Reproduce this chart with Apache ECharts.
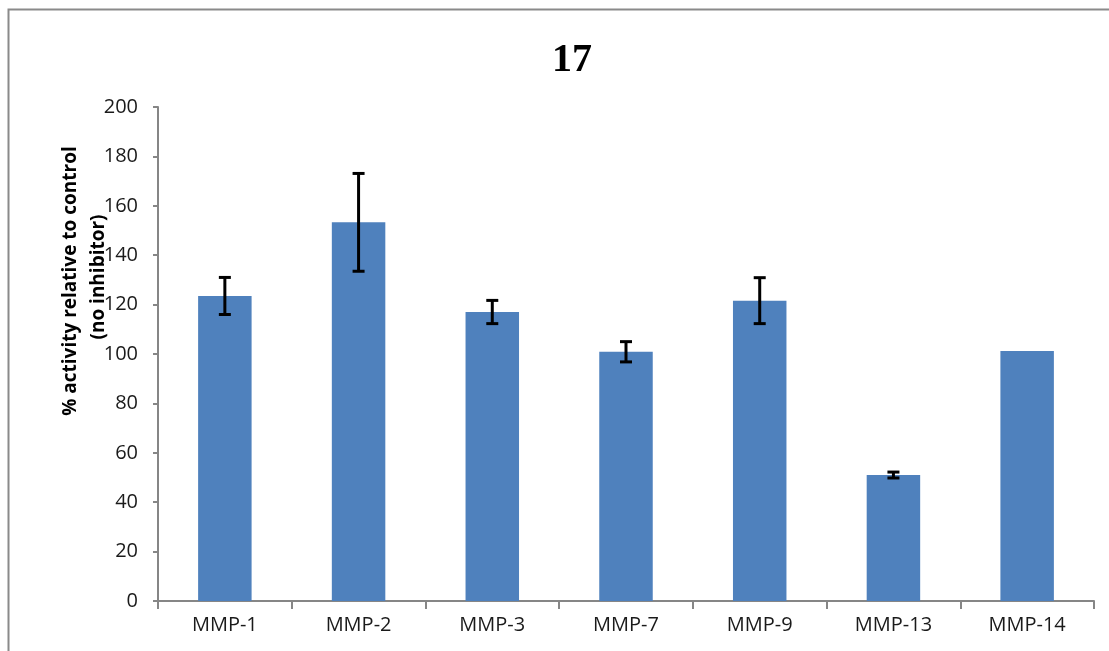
<!DOCTYPE html>
<html>
<head>
<meta charset="utf-8">
<script src="https://cdn.jsdelivr.net/npm/echarts@6/dist/echarts.min.js"></script>
<style>html,body{margin:0;padding:0;background:#fff}#c{width:1109px;height:651px}</style>
</head>
<body>
<div id="c"></div>
<script>
const categories = ['MMP-1','MMP-2','MMP-3','MMP-7','MMP-9','MMP-13','MMP-14'];
const values = [123.5, 153.3, 117.0, 100.9, 121.6, 51.0, 101.2];
const errors = [7.5, 19.8, 4.7, 4.1, 9.3, 1.2, null];
const yTicks = [0, 200, 20];
const titleText = '17';
const yNameLine1 = '% activity relative to control';
const yNameLine2 = '(no inhibitor)';

const chart = echarts.init(document.getElementById('c'));
const errData = values.map((v, i) => [i, v, errors[i]]);
const axisGray = '#868686';
chart.setOption({
  animation: false,
  backgroundColor: '#fff',
  title: {
    text: titleText, left: 567, top: 36, textAlign: 'center',
    textStyle: {fontFamily: 'Liberation Serif', fontWeight: 'bold', fontSize: 40, color: '#000'}
  },
  graphic: [
    {type: 'rect', shape: {x: 8.5, y: 9.5, width: 1200, height: 800}, style: {fill: null, stroke: '#8a8a8a', lineWidth: 2}, silent: true},
    {type: 'text', x: 71, y: 281, rotation: Math.PI/2, style: {text: yNameLine1, fontFamily: 'Open Sans', fontWeight: 'bold', fontSize: 19, fill: '#000', align: 'center', verticalAlign: 'middle'}},
    {type: 'text', x: 99, y: 277, rotation: Math.PI/2, style: {text: yNameLine2, fontFamily: 'Open Sans', fontWeight: 'bold', fontSize: 19, fill: '#000', align: 'center', verticalAlign: 'middle'}}
  ],
  grid: {left: 158, right: 15, top: 107, bottom: 50},
  xAxis: {
    type: 'category', data: categories,
    axisLine: {lineStyle: {color: axisGray, width: 2}},
    axisTick: {show: true, length: 8, lineStyle: {color: axisGray, width: 2}},
    axisLabel: {fontFamily: 'Open Sans', fontSize: 20, color: '#1a1a1a', margin: 14}
  },
  yAxis: {
    type: 'value', min: yTicks[0], max: yTicks[1], interval: yTicks[2],
    splitLine: {show: false},
    axisLine: {show: true, lineStyle: {color: axisGray, width: 2}},
    axisTick: {show: true, length: 5, lineStyle: {color: axisGray, width: 2}},
    axisLabel: {fontFamily: 'Open Sans', fontSize: 20, color: '#1a1a1a', margin: 20}
  },
  series: [
    {type: 'bar', data: values, barWidth: '40%', itemStyle: {color: '#4F81BD'}},
    {
      type: 'custom', data: errData, z: 10,
      renderItem: function (params, api) {
        const e = api.value(2);
        if (e === null || e === undefined || isNaN(e)) return;
        const i = api.value(0), v = api.value(1);
        const hi = api.coord([i, v + e]);
        const lo = api.coord([i, v - e]);
        const w = 6;
        const st = {stroke: '#000', lineWidth: 3};
        return {type: 'group', children: [
          {type: 'line', shape: {x1: hi[0], y1: hi[1], x2: lo[0], y2: lo[1]}, style: st},
          {type: 'line', shape: {x1: hi[0]-w, y1: hi[1], x2: hi[0]+w, y2: hi[1]}, style: st},
          {type: 'line', shape: {x1: lo[0]-w, y1: lo[1], x2: lo[0]+w, y2: lo[1]}, style: st}
        ]};
      }
    }
  ]
});
</script>
</body>
</html>
